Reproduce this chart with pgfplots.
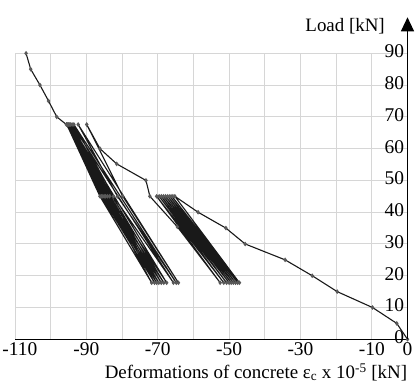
\documentclass[border=0pt]{standalone}
\usepackage{fontspec}
\setmainfont{Liberation Serif}
\usepackage{pgfplots}
\pgfplotsset{compat=1.18}
\usetikzlibrary{arrows.meta}
\begin{document}
\begin{tikzpicture}
\useasboundingbox (-15bp,-46.7bp) rectangle (403bp,339.3bp);
\begin{axis}[
  at={(0,0)}, anchor=south west,
  scale only axis, width=392.5bp, height=286bp,
  xmin=-110, xmax=0, ymin=0, ymax=90,
  axis x line=bottom, axis y line=right,
  axis line style={-, line width=1.2bp, black},
  xtick={-110,-100,...,0},
  xticklabels={\hphantom{0}-110,,-90,,-70,,-50,,-30,,-10,0},
  ytick={0,10,...,90},
  yticklabels={0,10,20,30,40,50,60,70,80,90},
  major tick length=0pt,
  tick label style={font=\fontsize{19.5}{22}\selectfont},
  yticklabel style={anchor=east, yshift=2bp},
  xmajorgrids, ymajorgrids,
  grid style={line width=1bp, black!16},
  clip=false,
]
\addplot[black!90, line width=1.1bp, mark=diamond*, mark size=1.5bp,
  mark options={fill=black!65, draw=black!65, solid}] coordinates {
  (0,0) (-3,5) (-9.8,10) (-19.7,15) (-26.7,20) (-34.3,25) (-45.5,30)
  (-50.9,35) (-58.7,40) (-65.2,45)
  (-47.1,17.8) (-66.0,45) (-47.6,17.8) (-66.6,45) (-48.2,17.8) (-67.2,45)
  (-48.8,17.8) (-67.8,45) (-49.4,17.8) (-68.4,45) (-50.0,17.8) (-69.0,45)
  (-50.7,17.8) (-69.6,45) (-51.5,17.8) (-70.3,45) (-52.5,17.8) (-64.5,35.4)
  (-72.2,45)
  (-73.3,50) (-81.5,55.2) (-86.2,60) (-89.9,67.6)
  (-79.8,45) (-64.2,17.8) (-92.3,67.6) (-81.3,45) (-64.8,17.8)
  (-93.5,67.6) (-82.4,45) (-65.6,17.8) (-94.0,67.6) (-83.5,45) (-67.5,17.8)
  (-94.4,67.6) (-84.1,45) (-68.3,17.8) (-94.7,67.6) (-84.6,45) (-69.0,17.8)
  (-95.0,67.6) (-85.0,45) (-69.7,17.8) (-95.2,67.6) (-85.4,45) (-70.3,17.8)
  (-95.4,67.6) (-85.8,45) (-70.9,17.8) (-95.5,67.6) (-86.2,45) (-71.7,17.8)
  (-95.6,67.6)
  (-98.3,70) (-100.6,75) (-103,80) (-105.6,85) (-106.9,90)
};
\end{axis}
\draw[line width=1.2bp, -{Triangle[width=13bp,length=14bp]}] (392.5bp,0) -- (392.5bp,322bp);
\node[anchor=base east, inner sep=0pt, font=\fontsize{19}{22}\selectfont] at (370bp,307.6bp) {Load [kN]};
\node[anchor=base east, inner sep=0pt, font=\fontsize{19}{22}\selectfont] at (392.3bp,-39bp) {Deformations of concrete ε\textsubscript{c} x 10\textsuperscript{-5} [kN]};
\end{tikzpicture}
\end{document}
